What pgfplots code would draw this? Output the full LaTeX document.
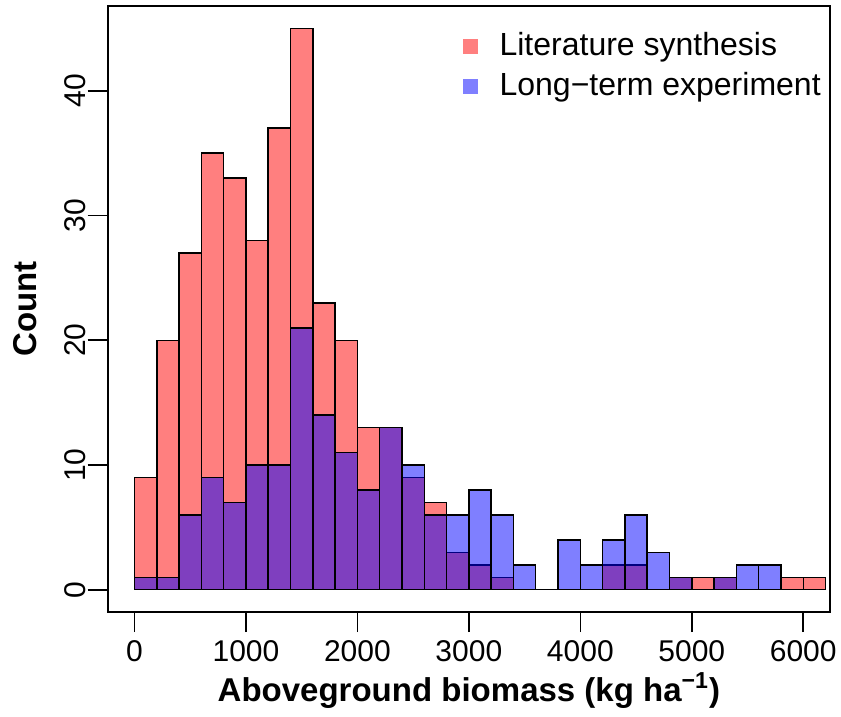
\documentclass[border=0pt]{standalone}
\usepackage{fontspec}
\setmainfont{Liberation Sans}
\usepackage{pgfplots}
\usepackage{pgfplotstable}
\pgfplotsset{compat=1.18}
\usetikzlibrary{calc}

% bin left edges (width 200); last row only closes the final interval
\pgfplotstableread{
left count
0 9
200 20
400 27
600 35
800 33
1000 28
1200 37
1400 45
1600 23
1800 20
2000 13
2200 13
2400 9
2600 7
2800 3
3000 2
3200 1
3400 0
3600 0
3800 0
4000 0
4200 2
4400 2
4600 0
4800 1
5000 1
5200 1
5400 0
5600 0
5800 1
6000 1
6200 1
}\littable

\pgfplotstableread{
left count
0 1
200 1
400 6
600 9
800 7
1000 10
1200 10
1400 21
1600 14
1800 11
2000 8
2200 13
2400 10
2600 6
2800 6
3000 8
3200 6
3400 2
3600 0
3800 4
4000 2
4200 4
4400 6
4600 3
4800 1
5000 0
5200 1
5400 2
5600 2
5800 0
}\exptable

\begin{document}
\begin{tikzpicture}
\begin{axis}[
  name=ax,
  scale only axis, width=361pt, height=303pt,
  xmin=-240, xmax=6240, ymin=-1.8, ymax=46.8,
  xtick={0,1000,...,6000}, ytick={0,10,...,40},
  xtick pos=left, ytick pos=left,
  tick align=outside, major tick length=10pt,
  tick style={black, line width=0.8pt},
  axis line style={black, line width=1pt},
  /pgf/number format/assume math mode=true,
  /pgf/number format/1000 sep={},
  ticklabel style={font=\fontsize{15}{15}\selectfont},
  yticklabel style={rotate=90, anchor=south, inner sep=1pt},
  xticklabel style={inner sep=4pt},
  xlabel={Aboveground biomass (kg ha\textsuperscript{−1})},
  xlabel style={font=\fontsize{16.5}{16.5}\selectfont\bfseries,
    at={(rel axis cs:0.5,-0.129)}, anchor=center},
  ylabel={Count},
  ylabel style={font=\fontsize{16.5}{16.5}\selectfont\bfseries,
    at={(rel axis cs:-0.115,0.5)}, anchor=center},
  legend style={at={(rel axis cs:0.49,0.957)}, anchor=north west,
    draw=none, fill=none, font=\fontsize{16}{16}\selectfont,
    row sep=6pt, inner sep=0pt,
    nodes={inner sep=0pt, text height=11.5pt, text depth=2.5pt, anchor=west}},
  legend cell align=left,
  legend image code/.code={
    \path[#1, draw=none] (0pt,-3.75pt) rectangle (7.5pt,3.75pt);
    \path (0pt,0pt) (18pt,0pt);},
]
\addplot[ybar interval, fill=red, fill opacity=0.5, draw=black,
  line width=0.75pt] table[x=left, y=count] {\littable};
\addlegendentry{Literature synthesis}
\addplot[ybar interval, fill=blue, fill opacity=0.5, draw=black,
  line width=0.75pt] table[x=left, y=count] {\exptable};
\addlegendentry{Long−term experiment}
\end{axis}
\pgfresetboundingbox
\path[use as bounding box] ($(ax.south west)+(-53.85pt,-52pt)$)
  rectangle ($(ax.north east)+(5.5pt,3pt)$);
\end{tikzpicture}
\end{document}
